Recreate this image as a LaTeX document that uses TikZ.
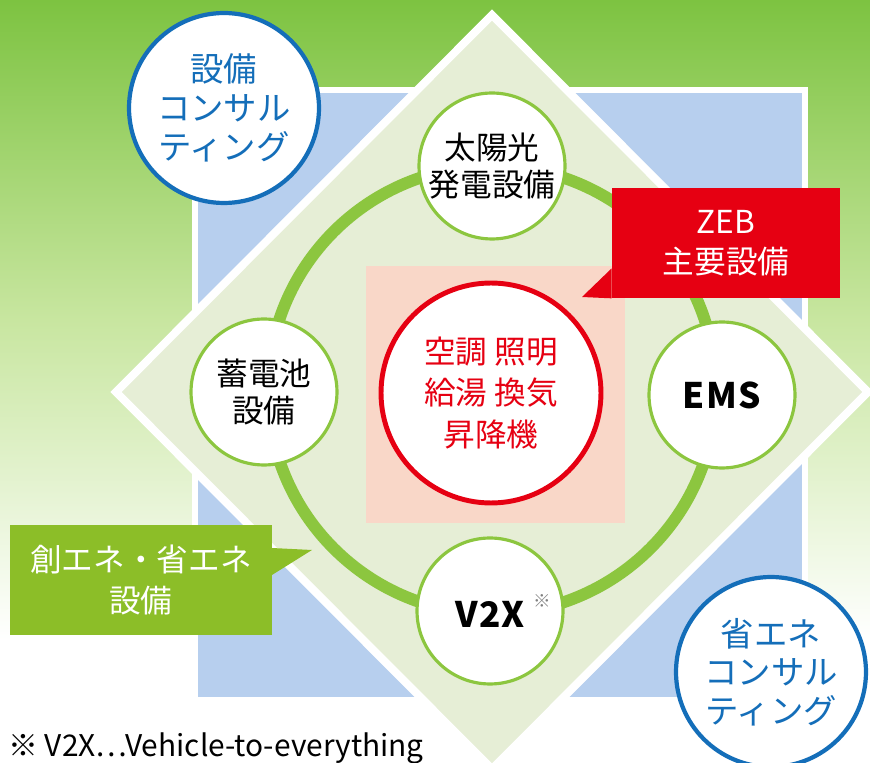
\documentclass[tikz,border=0pt]{standalone}
\usepackage{fontspec}
\setmainfont{Noto Sans CJK JP}
\definecolor{bggreen}{RGB}{125,195,65}
\definecolor{midgreen}{RGB}{200,230,160}
\definecolor{sqblue}{RGB}{183,207,238}
\definecolor{diafill}{RGB}{230,238,214}
\definecolor{ringgreen}{RGB}{140,198,63}
\definecolor{corepink}{RGB}{249,215,200}
\definecolor{zebred}{RGB}{230,0,18}
\definecolor{tabgreen}{RGB}{140,190,40}
\definecolor{consblue}{RGB}{20,110,185}

\begin{document}
\begin{tikzpicture}
[x=0.02cm,y=-0.02cm,every node/.style={align=center,inner sep=0pt},
 eqp/.style={circle,draw=ringgreen,line width=1.8pt,fill=white,minimum size=2.92cm,font=\fontsize{18}{21}\selectfont},
 latin/.style={font=\fontsize{20}{24}\selectfont\bfseries\addfontfeatures{LetterSpace=4}},
 consult/.style={circle,draw=consblue,line width=2.4pt,fill=white,minimum size=3.8cm,text=consblue,font=\fontsize{19}{22}\selectfont},
 tab/.style={minimum height=2.2cm,text=white,font=\fontsize{18}{23}\selectfont}]

  \useasboundingbox (0,0) rectangle (870,763);
  \clip (0,0) rectangle (870,763);

  % background
  \fill[white] (0,0) rectangle (870,763);
  \shade[top color=bggreen,bottom color=white,middle color=midgreen] (0,0) rectangle (870,640);

  % square and diamond
  \draw[white,line width=3.4pt,fill=sqblue] (195,90) rectangle (805,700);
  \draw[white,line width=4.5pt,fill=diafill] (492,15) -- (868,392) -- (492,769) -- (116,392) -- cycle;

  % ring
  \draw[ringgreen,line width=6.8pt] (492,390) circle (4.48cm);

  % core
  \fill[corepink] (366,266) rectangle (625,523);
  \node (core) at (491,393) [circle,draw=zebred,line width=2.8pt,fill=white,minimum size=4.4cm,text=zebred,font=\fontsize{18}{23.5}\selectfont] {空調 照明\\給湯 換気\\昇降機};

  \node (solar) at (492,166) [eqp] {太陽光\\発電設備};
  \node (battery) at (264,392) [eqp] {蓄電池\\設備};
  \node (ems) at (722,395) [eqp,latin] {EMS};
  \node (vtx) at (490,611) [eqp,latin] {V2X\rlap{\hspace{0.25em}\raisebox{0.55em}{\fontsize{10}{10}\selectfont\mdseries\color{gray}※}}};

  % callouts
  \node (zeb) at (726,243) [tab,fill=zebred,minimum width=4.56cm] {ZEB\\主要設備};
  \fill[zebred] ([yshift=0.6cm]zeb.south west) -- (582,297) -- (zeb.south west) -- cycle;
  \node (energy) at (141,580) [tab,fill=tabgreen,minimum width=5.24cm] {創エネ・省エネ\\設備};
  \fill[tabgreen] (272,548) -- (312,550) -- (272,575) -- cycle;

  \node (equipcon) at (224,108) [consult] {設備\\コンサル\\ティング};
  \node (savecon) at (771,672) [consult] {省エネ\\コンサル\\ティング};

  \node (note) at (8,748) [anchor=west,font=\fontsize{17}{19}\selectfont] {※ V2X⋯Vehicle-to-everything};

\end{tikzpicture}
\end{document}
